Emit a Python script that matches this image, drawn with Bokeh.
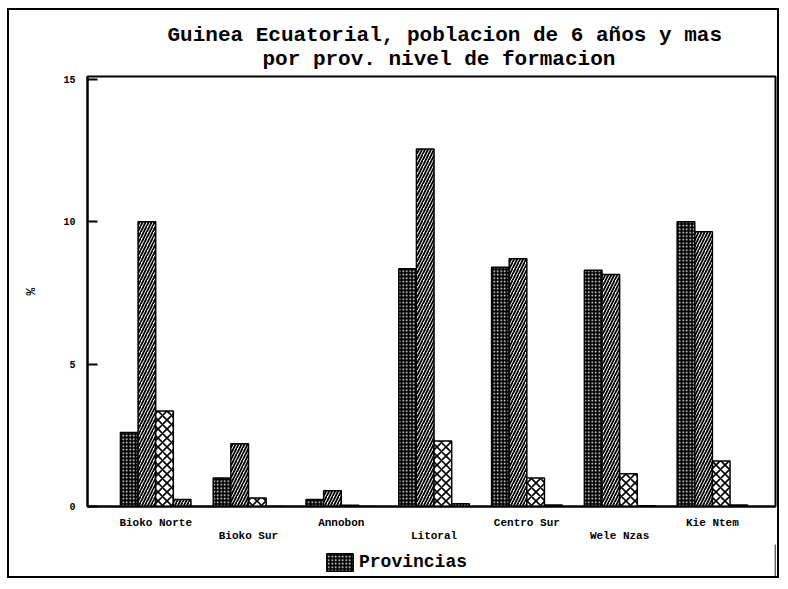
from bokeh.plotting import figure
from bokeh.layouts import column
from bokeh.models import (ColumnDataSource, LinearAxis, FixedTicker, Range1d, Title,
                          Legend, LegendItem)
from bokeh.embed import file_html
from bokeh.resources import INLINE

provinces = ["Bioko Norte", "Bioko Sur", "Annobon", "Litoral", "Centro Sur", "Wele Nzas", "Kie Ntem"]
serie1 = [2.6, 1.0, 0.25, 8.35, 8.4, 8.3, 10.0]
serie2 = [10.0, 2.2, 0.55, 12.55, 8.7, 8.15, 9.65]
serie3 = [3.35, 0.3, 0.04, 2.3, 1.0, 1.15, 1.6]
serie4 = [0.25, 0.0, 0.0, 0.1, 0.05, 0.03, 0.05]
y_ticks = [0, 5, 10, 15]
legend_label = "Provincias"

FONT = "Liberation Mono"
BW = 0.19

p = figure(width=768, height=534, output_backend="svg", toolbar_location=None,
           x_axis_type=None, y_axis_type=None,
           x_range=Range1d(-0.735, 6.68), y_range=Range1d(0, 15.1),
           min_border_left=78, min_border_right=2, min_border_top=66, min_border_bottom=38)
p.grid.visible = False
p.outline_line_color = "black"
p.outline_line_width = 2
p.background_fill_color = "white"
p.border_fill_color = "white"

idx = list(range(len(provinces)))
series = [serie1, serie2, serie3, serie4]
styles = [
    dict(fill_color="black", hatch_pattern="dot", hatch_color="white", hatch_scale=3.5, hatch_weight=1.2),
    dict(fill_color="white", hatch_pattern="right_diagonal_line", hatch_color="black", hatch_scale=6, hatch_weight=1.8),
    dict(fill_color="white", hatch_pattern="diagonal_cross", hatch_color="black", hatch_scale=9, hatch_weight=1.6),
    dict(fill_color="white", hatch_pattern="right_diagonal_line", hatch_color="black", hatch_scale=6, hatch_weight=1.8),
]
for k, (vals, st) in enumerate(zip(series, styles)):
    xs = [i + (k - 1.5) * BW for i in idx]
    src = ColumnDataSource(dict(x=xs, top=vals))
    p.vbar(x="x", top="top", width=BW, bottom=0, source=src,
           line_color="black", line_width=1.5, **st)

# y axis
yax = LinearAxis(ticker=FixedTicker(ticks=y_ticks), axis_label="%")
yax.axis_line_color = "black"
yax.axis_line_width = 2
yax.major_tick_in = 10
yax.major_tick_out = 0
yax.major_tick_line_width = 2
yax.minor_tick_line_color = None
yax.major_label_text_font = FONT
yax.major_label_text_font_style = "bold"
yax.major_label_text_font_size = "10px"
yax.major_label_text_color = "black"
yax.major_label_standoff = 12
yax.axis_label_text_font = FONT
yax.axis_label_text_font_style = "bold"
yax.axis_label_text_font_size = "13px"
yax.axis_label_text_color = "black"
yax.axis_label_standoff = 21
p.add_layout(yax, "left")

# x axes (staggered category labels)
ax1 = LinearAxis(ticker=FixedTicker(ticks=idx[0::2]),
                 major_label_overrides={i: provinces[i] for i in idx[0::2]})
ax2 = LinearAxis(ticker=FixedTicker(ticks=idx[1::2]),
                 major_label_overrides={i: provinces[i] for i in idx[1::2]})
for ax in (ax1, ax2):
    ax.major_tick_line_color = None
    ax.minor_tick_line_color = None
    ax.major_tick_in = 0
    ax.major_tick_out = 0
    ax.major_label_text_font = FONT
    ax.major_label_text_font_style = "bold"
    ax.major_label_text_font_size = "11px"
    ax.major_label_text_color = "black"
ax1.axis_line_color = "black"
ax1.axis_line_width = 2
ax1.major_label_standoff = 10
ax2.axis_line_color = None
ax2.major_label_standoff = -2
p.add_layout(ax1, "below")
p.add_layout(ax2, "below")

t2 = Title(text="por prov. nivel de formacion", align="left", offset=175, text_font=FONT,
           text_font_style="bold", text_font_size="21px", standoff=12, text_color="black")
t1 = Title(text="Guinea Ecuatorial, poblacion de 6 años y mas", align="left", offset=80, text_font=FONT,
           text_font_style="bold", text_font_size="21px", standoff=-14, text_color="black")
p.add_layout(t2, "above")
p.add_layout(t1, "above")

# legend strip below the chart (proxy bar kept outside the visible range)
p2 = figure(width=768, height=32, output_backend="svg", toolbar_location=None,
            x_axis_type=None, y_axis_type=None,
            x_range=Range1d(0, 1), y_range=Range1d(0, 1),
            min_border_left=78, min_border_right=2, min_border_top=0, min_border_bottom=0)
p2.grid.visible = False
p2.outline_line_color = None
p2.border_fill_color = "white"
r_leg = p2.vbar(x="x", top="top", width=BW, bottom=0,
                source=ColumnDataSource(dict(x=[len(provinces)], top=[serie1[0]])),
                line_color="black", line_width=1.5, **styles[0])
legend = Legend(items=[LegendItem(label=legend_label, renderers=[r_leg])],
                location=(236, 3), orientation="horizontal",
                glyph_width=33, glyph_height=22, label_text_font=FONT,
                label_text_font_style="bold", label_text_font_size="18px",
                label_text_color="black",
                border_line_color=None, background_fill_alpha=0, padding=2, margin=0,
                label_standoff=3)
p2.add_layout(legend, "center")

layout = column(p, p2, spacing=0,
                styles={"border": "2px solid black", "margin-left": "7px", "margin-top": "8px"})

open("out.html", "w").write(file_html(layout, INLINE))
